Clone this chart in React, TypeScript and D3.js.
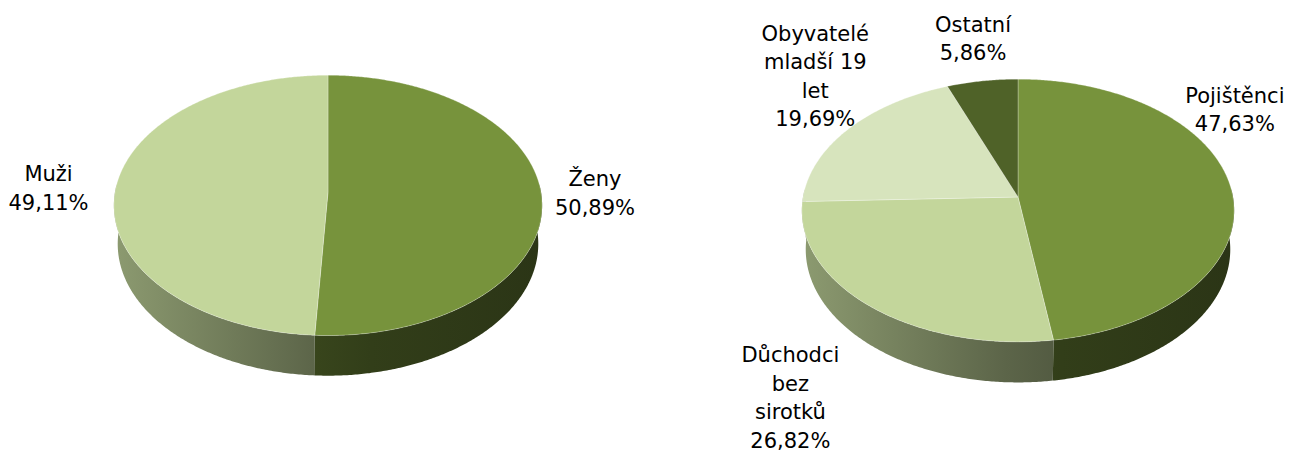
import React, { useEffect, useRef } from "react";
import * as d3 from "d3";

// left chart: gender split
const genderLines = [["Ženy"], ["Muži"]];
const genderValues = [50.89, 49.11];
const genderColors = ["#77933c", "#c3d69b"];

// right chart: insured groups
const groupLines = [
  ["Pojištěnci"],
  ["Důchodci", "bez", "sirotků"],
  ["Obyvatelé", "mladší 19", "let"],
  ["Ostatní"],
];
const groupValues = [47.63, 26.82, 19.69, 5.86];
const groupColors = ["#77933c", "#c3d69b", "#d7e4bd", "#4f6228"];

// label nudges relative to the projected anchor (layout only)
const genderNudge = [[32, -3], [-46, 0]];
const groupNudge = [[-17, -77], [-62, 80], [-17, -47], [-6, -32]];

const W = 1297;
const H = 454;
const ALPHA = (37.2 * Math.PI) / 180;
const DIST = 7.75;
const DEPTH = 0.232;
const FONT = 21;
const LINE_H = 28.5;

const fmt = d3.formatLocale({ decimal: ",", thousands: " ", grouping: [3], currency: ["", ""] }).format(".2f");

// side shading across the pie's screen width
const shadeT = [0, 0.47, 0.6, 1];
const shadeF = [0.72, 0.47, 0.42, 0.36];

function projector(cx: number, cy: number, R: number) {
  return (theta: number, r: number, h: number): [number, number] => {
    const X = r * Math.sin(theta);
    const Y = -r * Math.cos(theta);
    const v = Y * Math.sin(ALPHA) + h * Math.cos(ALPHA);
    const d = DIST - Y * Math.cos(ALPHA) + h * Math.sin(ALPHA);
    const s = DIST / d;
    return [cx + R * X * s, cy + R * v * s];
  };
}

function drawPie(svg: any, id: string, cx: number, cy: number, R: number, values: number[], colors: string[], lines: string[][], nudge: number[][]) {
  const proj = projector(cx, cy, R);
  const arcs = d3.pie<number>().sort(null).value((d) => d)(values);
  const line = d3.line();
  const step = Math.PI / 360;
  const defs = svg.append("defs");
  const g = svg.append("g");

  const samples = (a0: number, a1: number, h: number) => {
    const pts: [number, number][] = [];
    const n = Math.max(2, Math.ceil((a1 - a0) / step));
    for (let i = 0; i <= n; i++) pts.push(proj(a0 + ((a1 - a0) * i) / n, 1, h));
    return pts;
  };

  // side walls (front half only)
  const frontStart = Math.PI / 2 - 0.06;
  const frontEnd = (3 * Math.PI) / 2 + 0.06;
  arcs.forEach((a, i) => {
    const s = Math.max(a.startAngle, frontStart);
    const e = Math.min(a.endAngle, frontEnd);
    if (e <= s) return;
    const base = d3.rgb(colors[i]);
    const grad = defs.append("linearGradient")
      .attr("id", `${id}-side-${i}`)
      .attr("gradientUnits", "userSpaceOnUse")
      .attr("x1", cx - R).attr("x2", cx + R)
      .attr("y1", 0).attr("y2", 0);
    shadeT.forEach((t, k) => {
      const f = shadeF[k];
      grad.append("stop")
        .attr("offset", t)
        .attr("stop-color", d3.rgb(base.r * f, base.g * f, base.b * f).formatHex());
    });
    const pts = samples(s, e, 0).concat(samples(s, e, DEPTH).reverse());
    g.append("path")
      .attr("d", line(pts) + "Z")
      .attr("fill", `url(#${id}-side-${i})`);
  });

  // top faces
  arcs.forEach((a, i) => {
    const pts = [proj(0, 0, 0)].concat(samples(a.startAngle, a.endAngle, 0));
    g.append("path")
      .attr("d", line(pts) + "Z")
      .attr("fill", colors[i])
      .attr("stroke", "rgba(255,255,255,0.35)")
      .attr("stroke-width", 0.8);
  });

  // labels
  arcs.forEach((a, i) => {
    const mid = (a.startAngle + a.endAngle) / 2;
    const [ax, ay] = proj(mid, 1.1, 0);
    const txt = lines[i].concat([fmt(values[i]) + "%"]);
    const x = ax + nudge[i][0];
    const yc = ay + nudge[i][1];
    const first = yc - ((txt.length - 1) * LINE_H) / 2 + FONT * 0.36;
    const t = g.append("text")
      .attr("text-anchor", "middle")
      .attr("font-family", "'DejaVu Sans', Verdana, sans-serif")
      .attr("font-size", FONT)
      .attr("fill", "#000");
    txt.forEach((l, k) => {
      t.append("tspan").attr("x", x).attr("y", first + k * LINE_H).text(l);
    });
  });
}

export default function App() {
  const ref = useRef<SVGSVGElement>(null);

  useEffect(() => {
    const svg = d3.select(ref.current);
    svg.selectAll("*").remove();
    drawPie(svg, "gender", 328, 192, 213, genderValues, genderColors, genderLines, genderNudge);
    drawPie(svg, "group", 1018, 197, 215, groupValues, groupColors, groupLines, groupNudge);
  }, []);

  return (
    <svg
      ref={ref}
      width={W}
      height={H}
      style={{ position: "absolute", left: 0, top: 0, background: "#fff" }}
    />
  );
}
